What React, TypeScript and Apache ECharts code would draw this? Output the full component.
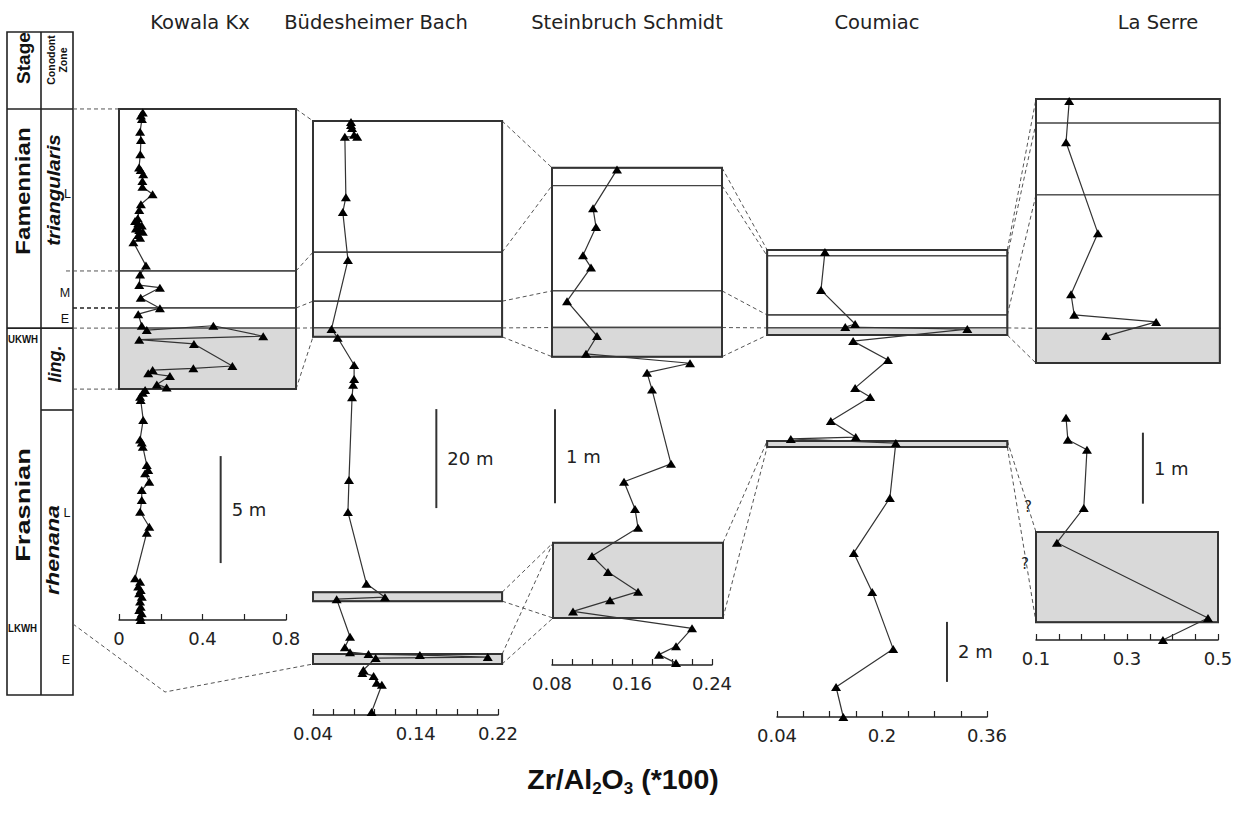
import React, { useEffect, useRef } from "react";
import * as echarts from "echarts";

type Pt = [number, number];

const W = 1245;
const H = 813;

// Zr/Al2O3 (*100) against height in section (m)
const kowalaPts: Pt[] = [
  [0.114, 23.72], [0.105, 23.57], [0.11, 23.41], [0.101, 22.82], [0.105, 22.43], [0.102, 21.76],
  [0.096, 21.14], [0.104, 21.03], [0.116, 20.83], [0.112, 20.51], [0.112, 20.25], [0.161, 19.89],
  [0.105, 19.43], [0.097, 19.16], [0.09, 18.77], [0.077, 18.64], [0.092, 18.54], [0.109, 18.43],
  [0.081, 18.3], [0.097, 18.22], [0.114, 18.14], [0.092, 17.99], [0.101, 17.86], [0.069, 17.65],
  [0.129, 16.56], [0.101, 16.15], [0.097, 15.65], [0.196, 15.53], [0.104, 15.06], [0.196, 14.57],
  [0.092, 14.29], [0.109, 13.75], [0.133, 13.55], [0.452, 13.75], [0.691, 13.26], [0.097, 13.1],
  [0.359, 12.9], [0.543, 11.87], [0.356, 11.76], [0.161, 11.68], [0.14, 11.53], [0.244, 11.4],
  [0.181, 11.01], [0.228, 10.86], [0.125, 10.75], [0.114, 10.62], [0.101, 10.43], [0.104, 10.28],
  [0.116, 9.35], [0.101, 8.44], [0.109, 8.29], [0.114, 8.1], [0.133, 7.24], [0.14, 7.01],
  [0.125, 6.86], [0.145, 6.46], [0.109, 6.07], [0.109, 5.61], [0.101, 5.06], [0.145, 4.36],
  [0.133, 4.08], [0.077, 1.95], [0.101, 1.79], [0.092, 1.56], [0.104, 1.4], [0.097, 1.25],
  [0.109, 1.09], [0.101, 0.86], [0.104, 0.62], [0.097, 0.47], [0.109, 0.31], [0.101, 0.15],
  [0.104, 0.0],
];

const budesheimPts: Pt[] = [
  [0.077, 119.8], [0.077, 119.2], [0.078, 118.6], [0.08, 117.2], [0.083, 116.8], [0.071, 116.8],
  [0.072, 104.6], [0.069, 101.6], [0.074, 91.9], [0.058, 78.0], [0.064, 76.2], [0.08, 70.7],
  [0.08, 67.9], [0.079, 66.7], [0.078, 64.2], [0.075, 47.5], [0.074, 41.0], [0.092, 26.5],
  [0.11, 23.8], [0.063, 23.4], [0.076, 15.8], [0.071, 13.7], [0.076, 12.7], [0.094, 12.3],
  [0.144, 12.1], [0.21, 11.7], [0.101, 11.5], [0.089, 9.1], [0.088, 8.5], [0.099, 7.9],
  [0.102, 6.5], [0.107, 6.1], [0.097, 0.6],
];

const steinbruchPts: Pt[] = [
  [0.145, 5.27], [0.121, 4.86], [0.124, 4.66], [0.111, 4.36], [0.119, 4.23], [0.095, 3.87],
  [0.125, 3.5], [0.114, 3.31], [0.218, 3.21], [0.175, 3.11], [0.18, 2.93], [0.199, 2.14],
  [0.152, 1.95], [0.163, 1.66], [0.166, 1.46], [0.12, 1.16], [0.136, 0.99], [0.166, 0.78],
  [0.138, 0.69], [0.101, 0.57], [0.22, 0.39], [0.204, 0.2], [0.187, 0.11], [0.204, 0.02],
];

const coumiacPts: Pt[] = [
  [0.113, 15.5], [0.107, 14.23], [0.159, 13.1], [0.144, 13.0], [0.33, 12.93], [0.156, 12.53],
  [0.209, 11.9], [0.159, 10.97], [0.182, 10.67], [0.122, 9.87], [0.16, 9.33], [0.061, 9.27],
  [0.221, 9.13], [0.212, 7.3], [0.157, 5.47], [0.185, 4.17], [0.217, 2.27], [0.13, 1.0],
  [0.141, 0.0],
];

const laSerreUpperPts: Pt[] = [
  [0.173, 7.59], [0.166, 7.01], [0.236, 5.73], [0.177, 4.87], [0.184, 4.58], [0.364, 4.48],
  [0.254, 4.28],
];
const laSerreLowerPts: Pt[] = [
  [0.166, 3.13], [0.17, 2.82], [0.212, 2.68], [0.205, 1.86], [0.146, 1.37], [0.478, 0.31],
  [0.379, 0.0],
];

const sectionNames = ["Kowala Kx", "Büdesheimer Bach", "Steinbruch Schmidt", "Coumiac", "La Serre"];

// Zone boundaries (m): section top, L/M, M/E, UKWH top, UKWH base
const kowalaBounds = [23.88, 16.31, 14.58, 13.64, 10.79];
const budesheimBounds = [120.0, 93.5, 83.6, 78.2, 76.4];
const steinbruchBounds = [5.29, 5.1, 3.98, 3.59, 3.28];
const coumiacBounds = [15.57, 15.37, 13.4, 12.97, 12.73];
const laSerreBounds = [7.62, 7.28, 6.27, 4.39, 3.9];

// Lower shaded intervals (top, base) in m
const budesheimBands = [[24.8, 23.0], [12.3, 10.3]];
const steinbruchBands = [[1.3, 0.5]];
const coumiacBands = [[9.2, 9.0]];
const laSerreBands = [[1.52, 0.25]];

// Column extents on the ratio axis
const boxX = [[0, 0.848], [0.04, 0.224], [0.08, 0.25], [0.025, 0.391], [0.1, 0.504]];

// Ratio axes
const axisMin = [0, 0.04, 0.08, 0.04, 0.1];
const axisMax = [0.8, 0.22, 0.24, 0.36, 0.5];
const axisStep = [0.2, 0.02, 0.02, 0.04, 0.05];
const axisLabels = [
  ["0", "0.4", "0.8"],
  ["0.04", "0.14", "0.22"],
  ["0.08", "0.16", "0.24"],
  ["0.04", "0.2", "0.36"],
  ["0.1", "0.3", "0.5"],
];

// Thickness scale bars
const scaleBarX = [0.487, 0.16, 0.083, 0.299, 0.335];
const scaleBarBase = [2.66, 41.8, 1.72, 1.17, 1.92];
const scaleBarLength = [5, 20, 1, 2, 1];
const scaleBarLabels = ["5 m", "20 m", "1 m", "2 m", "1 m"];

// Panel layout in pixels
const panelLeft = [119, 313, 552, 777, 1036];
const panelWidth = [167, 185, 160, 210, 182];
const panelAxisY = [620, 715, 665, 717, 640];
const panelPxPerM = [21.4, 4.95, 94, 30, 71];
const panelYMax = [25, 125, 5.5, 16, 8];
const titleX = [200, 376, 627, 877, 1158];

const TEXT_FONT = "'DejaVu Sans', sans-serif";
const BOLD_FONT = "'Liberation Sans', Arial, sans-serif";
const INK = "#222";

export default function App() {
  const ref = useRef<HTMLDivElement>(null);

  useEffect(() => {
    const el = ref.current;
    if (!el) return;
    const chart = echarts.init(el, null, { renderer: "svg", width: W, height: H });

    const bounds = [kowalaBounds, budesheimBounds, steinbruchBounds, coumiacBounds, laSerreBounds];
    const bands = [[], budesheimBands, steinbruchBands, coumiacBands, laSerreBands];
    const points = [[kowalaPts], [budesheimPts], [steinbruchPts], [coumiacPts], [laSerreUpperPts, laSerreLowerPts]];

    const grids: any[] = [];
    const xAxes: any[] = [];
    const yAxes: any[] = [];
    const series: any[] = [];

    for (let i = 0; i < 5; i++) {
      const h = panelYMax[i] * panelPxPerM[i];
      grids.push({
        left: panelLeft[i],
        width: panelWidth[i],
        top: panelAxisY[i] - h,
        height: h,
        containLabel: false,
        outerBoundsMode: "none",
      });
      const labels = axisLabels[i];
      xAxes.push({
        type: "value",
        gridIndex: i,
        min: axisMin[i],
        max: axisMax[i],
        interval: axisStep[i],
        position: "bottom",
        axisLine: { show: true, onZero: false, lineStyle: { color: INK, width: 1.5 } },
        axisTick: { show: true, inside: true, length: 6, lineStyle: { color: INK, width: 1.2 } },
        splitLine: { show: false },
        axisLabel: {
          margin: 9,
          color: INK,
          fontFamily: TEXT_FONT,
          fontSize: 18,
          showMinLabel: true,
          showMaxLabel: true,
          formatter: (v: number) => {
            const s = String(+(+v).toFixed(3));
            return labels.indexOf(s) >= 0 ? s : "";
          },
        },
      });
      yAxes.push({ type: "value", gridIndex: i, min: 0, max: panelYMax[i], show: false });

      // zone boxes: [x0, x1, base, top, kind] kind 0 white, 1 shaded, 2 outline
      const b = bounds[i];
      const [x0, x1] = boxX[i];
      const zones: number[][] = [];
      for (let k = 0; k < b.length - 1; k++) zones.push([x0, x1, b[k + 1], b[k], k === 3 ? 1 : 0]);
      zones.push([x0, x1, b[b.length - 1], b[0], 2]);
      for (const band of bands[i] as number[][]) {
        const bx0 = i === 2 ? 0.081 : x0;
        const bx1 = i === 2 ? 0.251 : i === 4 ? 0.5 : x1;
        zones.push([bx0, bx1, band[1], band[0], 1]);
        zones.push([bx0, bx1, band[1], band[0], 2]);
      }
      series.push({
        type: "custom",
        xAxisIndex: i,
        yAxisIndex: i,
        clip: false,
        silent: true,
        z: 1,
        encode: { x: [0, 1], y: [2, 3] },
        data: zones,
        renderItem: (_p: any, api: any) => {
          const a = api.coord([api.value(0), api.value(3)]);
          const c = api.coord([api.value(1), api.value(2)]);
          const kind = api.value(4);
          return {
            type: "rect",
            shape: { x: a[0], y: a[1], width: c[0] - a[0], height: c[1] - a[1] },
            style: {
              fill: kind === 2 ? "none" : kind === 1 ? "#d9d9d9" : "#fff",
              stroke: kind === 2 ? "#333" : "#444",
              lineWidth: kind === 2 ? 2 : 1.4,
            },
          };
        },
      });

      for (const pts of points[i]) {
        series.push({
          type: "line",
          xAxisIndex: i,
          yAxisIndex: i,
          data: pts,
          clip: false,
          silent: true,
          z: 5,
          symbol: "triangle",
          symbolSize: [10, 8],
          showSymbol: true,
          lineStyle: { color: "#333", width: 1.2 },
          itemStyle: { color: "#000" },
        });
      }
    }

    chart.setOption({
      animation: false,
      backgroundColor: "#fff",
      grid: grids,
      xAxis: xAxes,
      yAxis: yAxes,
      series,
    });

    const px = (i: number, x: number, y: number) =>
      chart.convertToPixel({ gridIndex: i } as any, [x, y]) as unknown as number[];

    const g: any[] = [];
    const dashed = { stroke: "#555", lineWidth: 1, lineDash: [4, 3], fill: "none" };
    const line = (a: number[], b: number[], style: any = dashed) =>
      g.push({ type: "line", shape: { x1: a[0], y1: a[1], x2: b[0], y2: b[1] }, style, z: 0 });

    // section titles
    for (let i = 0; i < 5; i++) {
      g.push({
        type: "text",
        x: titleX[i],
        y: 22,
        style: { text: sectionNames[i], fontFamily: TEXT_FONT, fontSize: 19.5, fill: INK, align: "center", verticalAlign: "middle" },
      });
    }

    // scale bars
    for (let i = 0; i < 5; i++) {
      const a = px(i, scaleBarX[i], scaleBarBase[i]);
      const b = px(i, scaleBarX[i], scaleBarBase[i] + scaleBarLength[i]);
      line(a, b, { stroke: "#333", lineWidth: 2 });
      g.push({
        type: "text",
        x: a[0] + 11,
        y: (a[1] + b[1]) / 2,
        style: { text: scaleBarLabels[i], fontFamily: TEXT_FONT, fontSize: 18, fill: INK, align: "left", verticalAlign: "middle" },
      });
    }

    // correlation lines between neighbouring sections
    for (let i = 0; i < 4; i++) {
      for (let k = 0; k < 5; k++) {
        line(px(i, boxX[i][1], bounds[i][k]), px(i + 1, boxX[i + 1][0], bounds[i + 1][k]));
      }
    }
    for (const band of budesheimBands) {
      line(px(1, boxX[1][1], band[0]), px(2, 0.081, steinbruchBands[0][0]));
      line(px(1, boxX[1][1], band[1]), px(2, 0.081, steinbruchBands[0][1]));
    }
    line(px(2, 0.251, steinbruchBands[0][0]), px(3, boxX[3][0], coumiacBands[0][0]));
    line(px(2, 0.251, steinbruchBands[0][1]), px(3, boxX[3][0], coumiacBands[0][1]));
    line(px(3, boxX[3][1], coumiacBands[0][0]), px(4, boxX[4][0], laSerreBands[0][0]));
    line(px(3, boxX[3][1], coumiacBands[0][1]), px(4, boxX[4][0], laSerreBands[0][1]));
    for (const [qx, qy] of [[1028, 507], [1025, 564]]) {
      g.push({ type: "text", x: qx, y: qy, style: { text: "?", fontFamily: TEXT_FONT, fontSize: 15, fill: INK, align: "center", verticalAlign: "middle" } });
    }

    // stage / conodont zone column
    const colL = 7, colM = 41, colR = 73, colTop = 32, colBottom = 695;
    const kTop = px(0, 0, kowalaBounds[0])[1];
    const kStage = px(0, 0, kowalaBounds[3])[1];
    const lingBase = 410;
    const frame = { stroke: INK, lineWidth: 1.6, fill: "none" };
    g.push({ type: "rect", shape: { x: colL, y: colTop, width: colR - colL, height: colBottom - colTop }, style: frame });
    line([colM, colTop], [colM, colBottom], frame);
    line([colL, kTop], [colR, kTop], frame);
    line([colL, kStage], [colR, kStage], frame);
    line([colM, lingBase], [colR, lingBase], frame);

    for (const k of [0, 1, 2, 3, 4]) {
      const y = px(0, 0, kowalaBounds[k])[1];
      line([k === 1 ? 66 : colR, y], [px(0, boxX[0][0], 0)[0], y], k === 2 ? { ...dashed, stroke: "#222", lineWidth: 1.4 } : dashed);
    }
    const lk = px(1, boxX[1][0], budesheimBands[1][1]);
    g.push({ type: "polyline", shape: { points: [[colR, 624], [165, 692], lk] }, style: dashed });

    const vtext = (text: string, x: number, y: number, size: number, weight: string, style: string, sx = 1) =>
      g.push({
        type: "text",
        x,
        y,
        rotation: Math.PI / 2,
        scaleX: sx,
        style: { text, fontFamily: BOLD_FONT, fontSize: size, fontWeight: weight, fontStyle: style, fill: "#111", align: "center", verticalAlign: "middle", lineHeight: Math.round(size * 1.15) },
      });
    vtext("Stage", 23, 58, 19, "bold", "normal");
    vtext("Conodont\nZone", 57, 60, 10.5, "bold", "normal");
    vtext("Famennian", 23, 191, 21, "bold", "normal", 1.15);
    vtext("triangularis", 54, 190, 17.5, "bold", "italic", 1.17);
    vtext("ling.", 55, 364, 18, "bold", "italic");
    vtext("Frasnian", 23, 505, 21, "bold", "normal", 1.3);
    vtext("rhenana", 53, 550, 17.5, "bold", "italic", 1.32);

    const htext = (text: string, x: number, y: number, size: number, weight: string, align: string, sx = 1) =>
      g.push({
        type: "text",
        x,
        y,
        scaleX: sx,
        style: { text, fontFamily: BOLD_FONT, fontSize: size, fontWeight: weight, fill: "#111", align, verticalAlign: "middle" },
      });
    htext("UKWH", 8, 339, 11, "bold", "left", 0.88);
    htext("LKWH", 8, 628, 11, "bold", "left", 0.88);
    htext("L", 67.5, 194, 12.5, "normal", "center");
    htext("M", 65, 293, 12.5, "normal", "center");
    htext("E", 65, 319, 12.5, "normal", "center");
    htext("L", 67, 513, 12.5, "normal", "center");
    htext("E", 66, 660, 12.5, "normal", "center");

    // shared x-axis title
    g.push({
      type: "text",
      x: 623,
      y: 779,
      style: {
        text: "{a|Zr/Al}{s|2}{a|O}{s|3}{a| (*100)}",
        align: "center",
        verticalAlign: "middle",
        rich: {
          a: { fontFamily: BOLD_FONT, fontSize: 28.5, fontWeight: "bold", fill: "#111", lineHeight: 36, verticalAlign: "middle" },
          s: { fontFamily: BOLD_FONT, fontSize: 17, fontWeight: "bold", fill: "#111", lineHeight: 17, verticalAlign: "bottom" },
        },
      },
    });

    chart.setOption({ graphic: g });

    return () => chart.dispose();
  }, []);

  return <div ref={ref} style={{ position: "absolute", left: 0, top: 0, width: W, height: H, background: "#fff" }} />;
}
